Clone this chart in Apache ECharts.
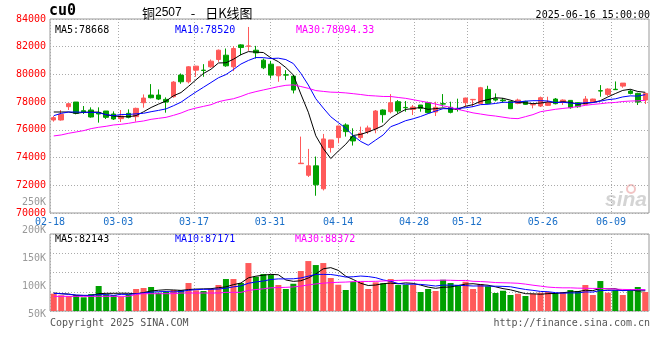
<!DOCTYPE html>
<html><head><meta charset="utf-8">
<script src="https://cdn.jsdelivr.net/npm/echarts@6/dist/echarts.min.js"></script>
<style>html,body{margin:0;padding:0;background:#fff}#c{width:660px;height:360px}</style>
</head><body><div id="c"></div>
<script>
const dates = ['02-18','02-19','02-20','02-21','02-24','02-25','02-26','02-27','02-28',
'03-03','03-04','03-05','03-06','03-07','03-10','03-11','03-12','03-13','03-14','03-17','03-18','03-19','03-20','03-21','03-24','03-25','03-26','03-27','03-28','03-31',
'04-01','04-02','04-03','04-07','04-08','04-09','04-10','04-11','04-14','04-15','04-16','04-17','04-18','04-21','04-22','04-23','04-24','04-25','04-28','04-29','04-30',
'05-06','05-07','05-08','05-09','05-12','05-13','05-14','05-15','05-16','05-19','05-20','05-21','05-22','05-23','05-26','05-27','05-28','05-29','05-30',
'06-03','06-04','06-05','06-06','06-09','06-10','06-11','06-12','06-13','06-16'];
const tickDates = ['02-18','03-03','03-17','03-31','04-14','04-28','05-12','05-26','06-09'];

const opens = [76712,76712,77671,78007,77384,77432,77240,77360,77144,76808,77192,76952,77959,78511,78511,78199,78391,79950,79470,80309,
80309,80549,81076,81388,80549,82132,82030,81748,81029,80741,79902,79974,79878,73560,72721,73403,71748,74722,75441,76352,
75513,75441,75873,76065,77432,77312,78031,77620,77480,77792,77959,77288,77887,77624,77500,77959,78170,77911,78919,78250,
78150,78055,77911,78055,77800,77720,77768,78223,77983,78127,77959,77840,78031,78830,78559,78930,79158,78799,78631,78151];
const closes = [76880,77120,77887,77192,77264,76928,77144,76904,76784,77000,76904,77552,78295,78319,78223,78007,79446,79470,80549,80597,
80285,80957,81748,80621,81868,81940,82060,81556,80477,79950,80549,79950,78871,73595,73403,72036,75345,75273,76280,75873,
75201,75753,76137,77360,77096,77959,77360,77600,77648,77552,77240,77624,77860,77264,77480,78295,78199,79039,77911,78150,
78100,77528,78151,77840,77830,78319,77959,77888,78151,77600,77672,78223,78223,78800,78943,78900,79374,78631,78007,78631];
const lows = [76593,76664,77432,77120,77144,76880,76520,76784,76712,76568,76832,76593,77600,78271,78151,77240,78319,79326,79350,79830,
79830,80477,80909,80549,80237,81388,81700,81148,80381,79710,79470,79590,78631,73560,72600,71245,71628,74362,75034,75513,
74866,75273,75705,75753,76520,77192,77192,77312,77072,77312,77192,77000,77671,77192,77320,77672,77672,77880,77864,78050,
77950,77500,77850,77800,77552,77650,77720,77840,77800,77528,77600,77792,77960,78391,78439,78880,79039,78559,77792,77864];
const highs = [77000,77432,77930,78007,77720,77624,77624,77360,77336,77432,77480,77600,78559,79302,78918,78343,79518,80070,80597,80620,
80741,81077,81796,81868,82036,82180,83424,82060,81148,80981,80549,80309,79950,75513,74626,74075,75705,75273,76280,76472,
76113,76232,76304,77432,77480,78583,78151,78079,77792,77792,78031,78031,78583,78031,78250,78320,78230,79100,79182,78630,
78300,78100,78250,78100,77900,78400,78391,78300,78200,78150,78000,78439,78250,79230,79000,79494,79374,78919,78679,78679];
const volumes = [71000,64400,61500,65600,56200,69700,102500,68500,65600,58600,68500,90200,94300,98400,75000,77900,86100,86100,114800,84900,
82000,90200,106600,131200,131200,114800,196800,140600,151700,147600,106600,90200,111900,164000,205000,188600,196800,135300,107800,86100,
120100,118900,90200,117700,113600,131200,106600,107800,107800,77900,90200,82000,128300,114800,106600,120100,90200,110700,101300,73800,
83200,65600,70900,61500,70900,75000,77900,73800,77900,86100,82000,106600,65600,123000,75000,86100,65600,86100,98400,77900];

const ma5Head = [77288,77288,77288,77192];
const ma10Head = [77024,77192,77288,77288,77264,77264,77240,77096,77024];
const ma30Head = [75561,75633,75753,75849,75945,76089,76185,76257,76353,76401,76473,76569,76641,76760,76832,76904,77048,77216,77432,77576,
77695,77815,78031,78151,78247,78415,78620,78760,78880];
const vma5Head = [73800,71000,69700,64200];
const vma10Head = [72400,71000,68300,65600,64200,64200,67000,67000,64200];
const vma30Head = [60100,60100,60100,60100,60100,60100,60100,60100,60100,60100,60100,68300,71000,71000,71000,71000,71000,73800,73800,73800,
73800,73800,73800,76500,76500,76500,84700,88000,91000];

const priceTicks = [70000,72000,74000,76000,78000,80000,82000,84000];
const volTicks = ['50K','100K','150K','200K','250K'];
const priceLegend = ['MA5:78668','MA10:78520','MA30:78094.33'];
const volLegend = ['MA5:82143','MA10:87171','MA30:88372'];
const headTitle = ['铜','2507','-','日K线图'];
const symbolText = 'cu0';
const stampText = '2025-06-16 15:00:00';
const copyText = 'Copyright 2025 SINA.COM';
const urlText = 'http://finance.sina.com.cn';

function movingAvg(vals, n, head) {
  return vals.map((v, i) => {
    if (i < n - 1) return head[i];
    let s = 0; for (let k = i - n + 1; k <= i; k++) s += vals[k];
    return +(s / n).toFixed(2);
  });
}

const UP = '#ff5a5a', DOWN = '#00a000';
const MONO = 'DejaVu Sans Mono';
const candleData = dates.map((d, i) => [opens[i], closes[i], lows[i], highs[i]]);
const volData = volumes.map((v, i) => ({value: v, itemStyle: {color: closes[i] >= opens[i] ? UP : DOWN}}));
const isTick = (idx) => tickDates.indexOf(dates[idx]) >= 0;
const gridLine = {show: true, interval: (idx) => isTick(idx), lineStyle: {color: '#aaa', type: [1, 2], width: 1}};
const hLine = {show: true, lineStyle: {color: '#aaa', type: [1, 2], width: 1}};

const chart = echarts.init(document.getElementById('c'), null, {renderer: 'canvas'});
const lineS = (name, data, color, xi, yi) => ({name, type: 'line', data, xAxisIndex: xi, yAxisIndex: yi,
  showSymbol: false, symbol: 'none', lineStyle: {color, width: 1}, z: 5, silent: true});

chart.setOption({
  animation: false,
  backgroundColor: '#fff',
  textStyle: {fontFamily: MONO},
  grid: [
    {left: 50, right: 11, top: 19, height: 194, show: true, borderColor: '#999', borderWidth: 1},
    {left: 50, right: 11, top: 234, height: 77, show: true, borderColor: '#999', borderWidth: 1},
    {left: 50, right: 11, top: 202.7, height: 112, show: false}
  ],
  xAxis: [
    {type: 'category', gridIndex: 0, data: dates, boundaryGap: true, show: false, position: 'bottom'},
    {type: 'category', gridIndex: 0, data: dates, boundaryGap: false, position: 'bottom', offset: 0,
      axisLine: {show: false}, axisTick: {show: false},
      axisLabel: {interval: (idx) => isTick(idx), color: '#1a6fc8', fontSize: 10, fontFamily: MONO, margin: 4},
      splitLine: gridLine},
    {type: 'category', gridIndex: 1, data: dates, boundaryGap: true, show: false, position: 'bottom'},
    {type: 'category', gridIndex: 1, data: dates, boundaryGap: false, position: 'bottom', offset: 0,
      axisLine: {show: false}, axisTick: {show: false}, axisLabel: {show: false}, splitLine: gridLine},
    {type: 'value', gridIndex: 2, show: false}
  ],
  yAxis: [
    {type: 'value', gridIndex: 0, min: priceTicks[0], max: priceTicks[priceTicks.length - 1], interval: 2000,
      axisLine: {show: false}, axisTick: {show: false},
      axisLabel: {color: '#ff0000', fontSize: 10, fontFamily: MONO, margin: 4, padding: [0, 0, 5, 0],
        formatter: (v) => String(priceTicks.find(t => t === v) ?? v)},
      splitLine: hLine},
    {type: 'value', gridIndex: 1, min: 0, max: 316000, interval: 79000,
      axisLine: {show: false}, axisTick: {show: false}, axisLabel: {show: false}, splitLine: hLine},
    {type: 'value', gridIndex: 2, min: 50000, max: 250000, interval: 50000,
      axisLine: {show: false}, axisTick: {show: false}, splitLine: {show: false},
      axisLabel: {color: '#999', fontSize: 10, fontFamily: MONO, margin: 4, hideOverlap: false,
        formatter: (v) => volTicks[Math.round(v / 50000) - 1]}}
  ],
  series: [
    {name: 'K', type: 'candlestick', xAxisIndex: 0, yAxisIndex: 0, data: candleData, barWidth: 5,
      itemStyle: {color: UP, color0: DOWN, borderColor: UP, borderColor0: DOWN, borderWidth: 1}},
    lineS('MA5', movingAvg(closes, 5, ma5Head), '#000000', 0, 0),
    lineS('MA10', movingAvg(closes, 10, ma10Head), '#0000ff', 0, 0),
    lineS('MA30', movingAvg(closes, 30, ma30Head), '#ff00ff', 0, 0),
    {name: 'VOL', type: 'bar', xAxisIndex: 2, yAxisIndex: 1, data: volData, barWidth: 6},
    lineS('VMA5', movingAvg(volumes, 5, vma5Head), '#000000', 2, 1),
    lineS('VMA10', movingAvg(volumes, 10, vma10Head), '#0000ff', 2, 1),
    lineS('VMA30', movingAvg(volumes, 30, vma30Head), '#ff00ff', 2, 1)
  ],
  graphic: [
    {type: 'text', left: 49, top: 4, style: {text: symbolText, font: 'bold 15px "DejaVu Sans Mono"', fill: '#000'}},
    {type: 'text', x: 142, y: 13, style: {
      text: '{a|' + headTitle[0] + '}{b|' + headTitle[1] + '}{c|' + headTitle[2] + '}{a|' + headTitle[3] + '}',
      textVerticalAlign: 'middle',
      rich: {
        a: {fontFamily: 'Noto Sans CJK SC', fontSize: 13, fill: '#000', color: '#000'},
        b: {fontFamily: 'Liberation Sans', fontSize: 12, color: '#666'},
        c: {fontFamily: 'Noto Sans CJK SC', fontSize: 13, color: '#000', padding: [0, 10, 0, 9]}
      }}},
    {type: 'text', x: 650, y: 15, style: {text: stampText, font: '10px "DejaVu Sans Mono"', fill: '#000', textAlign: 'right', textVerticalAlign: 'middle'}},
    {type: 'text', x: 55, y: 30, style: {text: priceLegend[0], font: '10px "DejaVu Sans Mono"', fill: '#000', textVerticalAlign: 'middle'}},
    {type: 'text', x: 175, y: 30, style: {text: priceLegend[1], font: '10px "DejaVu Sans Mono"', fill: '#0000ff', textVerticalAlign: 'middle'}},
    {type: 'text', x: 296, y: 30, style: {text: priceLegend[2], font: '10px "DejaVu Sans Mono"', fill: '#ff00ff', textVerticalAlign: 'middle'}},
    {type: 'text', x: 55, y: 239, style: {text: volLegend[0], font: '10px "DejaVu Sans Mono"', fill: '#000', textVerticalAlign: 'middle'}},
    {type: 'text', x: 175, y: 239, style: {text: volLegend[1], font: '10px "DejaVu Sans Mono"', fill: '#0000ff', textVerticalAlign: 'middle'}},
    {type: 'text', x: 295, y: 239, style: {text: volLegend[2], font: '10px "DejaVu Sans Mono"', fill: '#ff00ff', textVerticalAlign: 'middle'}},
    {type: 'text', x: 50, y: 323, style: {text: copyText, font: '10px "DejaVu Sans Mono"', fill: '#555', textVerticalAlign: 'middle'}},
    {type: 'text', x: 650, y: 323, style: {text: urlText, font: '10px "DejaVu Sans Mono"', fill: '#555', textAlign: 'right', textVerticalAlign: 'middle'}},
    {type: 'text', x: 647, y: 200, z: -1, style: {text: 'sina', font: 'italic bold 21px "Liberation Sans"', fill: '#d4d4d4', textAlign: 'right', textVerticalAlign: 'middle'}},
    {type: 'circle', shape: {cx: 631, cy: 189, r: 4}, z: -1, style: {fill: 'none', stroke: '#f2c4c4', lineWidth: 2}}
  ]
});
</script></body></html>
